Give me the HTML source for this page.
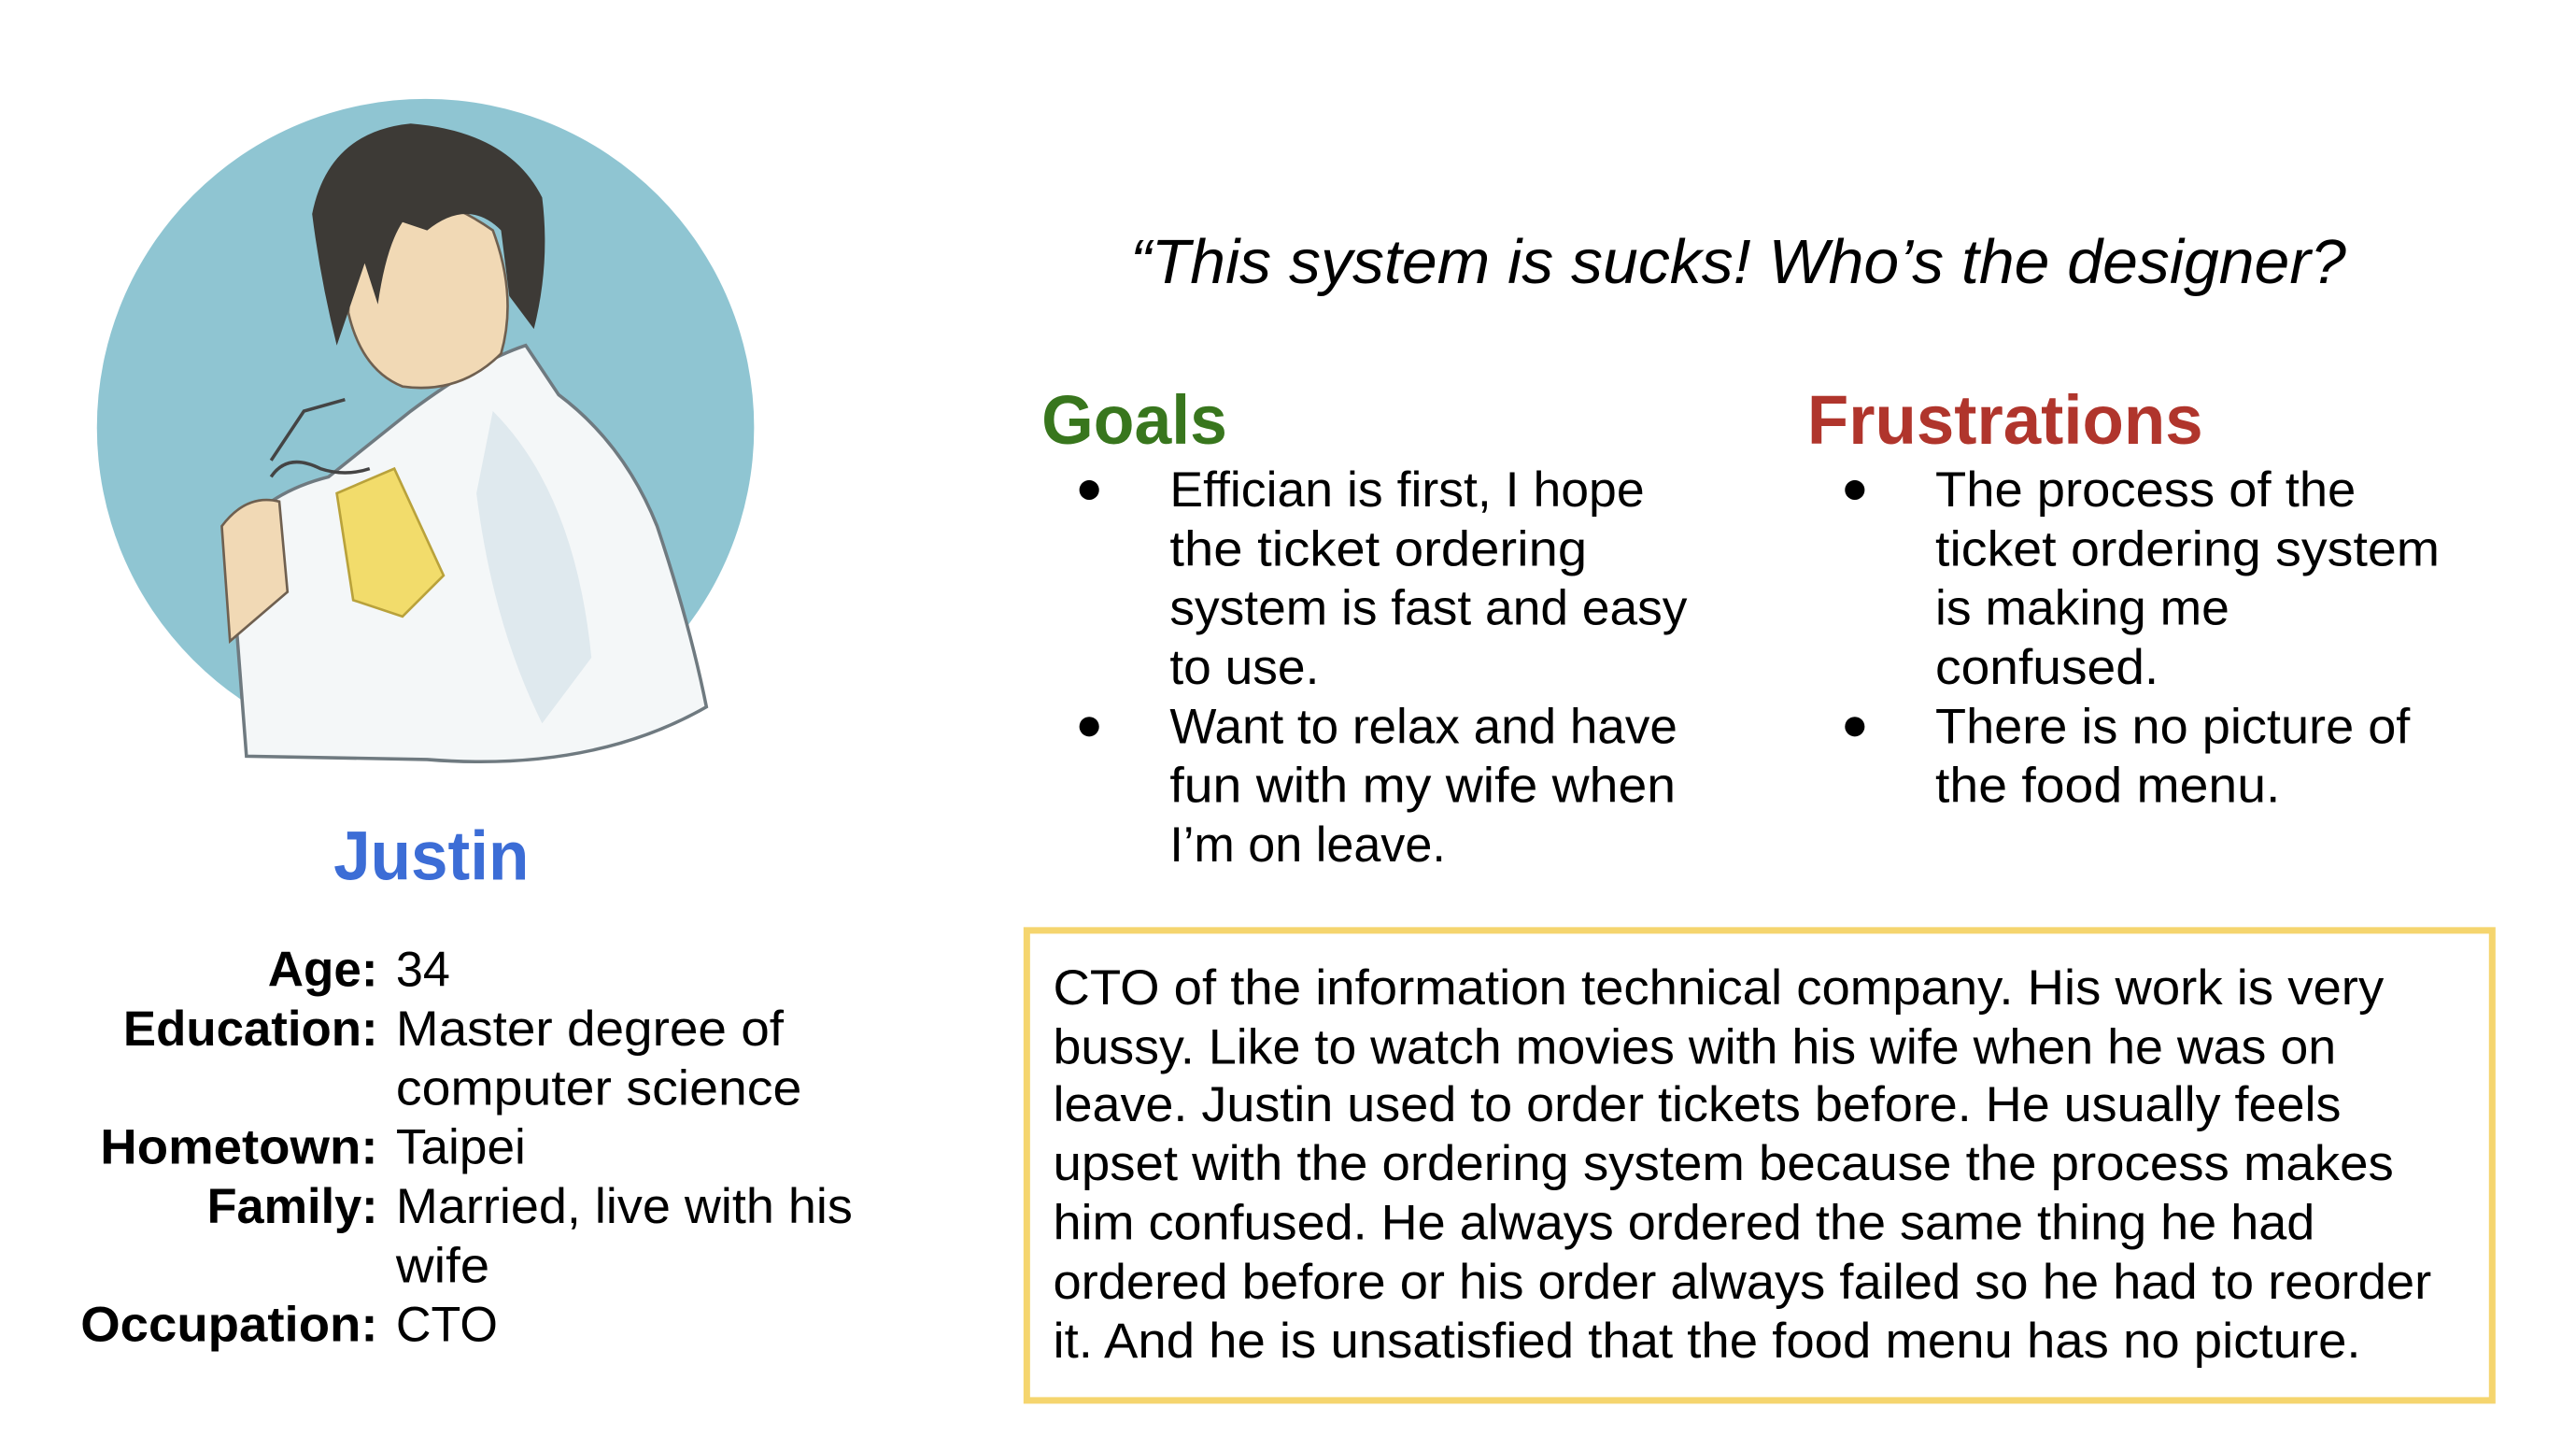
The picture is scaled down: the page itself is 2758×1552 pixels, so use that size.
<!DOCTYPE html>
<html><head><meta charset="utf-8"><style>
html,body{margin:0;padding:0;background:#fff;}
svg{display:block;}
text{font-family:"Liberation Sans",sans-serif;}
</style></head><body>
<svg width="2758" height="1552" viewBox="0 0 1568 882" xmlns="http://www.w3.org/2000/svg">
<rect width="1568" height="882" fill="#fff"/>
<g>
  <circle cx="259" cy="260" r="200" fill="#8fc5d2"/>
  <path d="M150 460 L140 330 Q160 300 200 290 L250 250 Q290 220 320 210 L340 240 Q380 270 400 320 Q420 380 430 430 Q360 470 260 462 Z" fill="#f4f7f8" stroke="#6f7a80" stroke-width="2"/>
  <path d="M300 250 Q350 300 360 400 L330 440 Q300 380 290 300 Z" fill="#dfe9ee"/>
  <path d="M140 390 L135 320 Q150 300 170 305 L175 360 Z" fill="#f1d9b5" stroke="#6f6050" stroke-width="1.5"/>
  <path d="M205 300 L240 285 L270 350 L245 375 L215 365 Z" fill="#f2dc6b" stroke="#b9a23b" stroke-width="1.5"/>
  <path d="M215 130 Q250 105 300 140 Q315 180 305 215 Q280 240 245 235 Q220 225 212 190 Z" fill="#f1d9b5" stroke="#6f6050" stroke-width="1.5"/>
  <path d="M190 130 Q200 80 250 75 Q310 80 330 120 Q335 160 325 200 L310 180 L305 140 Q285 120 260 140 L245 135 Q235 150 230 185 L222 160 L205 210 Q195 170 190 130 Z" fill="#3d3a36"/>
  <path d="M165 290 Q175 275 195 285 Q210 290 225 285" fill="none" stroke="#444" stroke-width="2"/>
  <path d="M165 280 L185 250 L210 243" fill="none" stroke="#444" stroke-width="2"/>
</g>
<text x="203" y="535" font-size="42" font-weight="bold" fill="#3c6dd6" textLength="119" lengthAdjust="spacingAndGlyphs">Justin</text>
<g font-size="30" fill="#000">
  <text x="230" y="600" text-anchor="end" font-weight="bold" textLength="67" lengthAdjust="spacingAndGlyphs">Age:</text>
  <text x="241" y="600" textLength="33" lengthAdjust="spacingAndGlyphs">34</text>
  <text x="230" y="636" text-anchor="end" font-weight="bold" textLength="155" lengthAdjust="spacingAndGlyphs">Education:</text>
  <text x="241" y="636" textLength="236" lengthAdjust="spacingAndGlyphs">Master degree of</text>
  <text x="241" y="672" textLength="247" lengthAdjust="spacingAndGlyphs">computer science</text>
  <text x="230" y="708" text-anchor="end" font-weight="bold" textLength="169" lengthAdjust="spacingAndGlyphs">Hometown:</text>
  <text x="241" y="708" textLength="79" lengthAdjust="spacingAndGlyphs">Taipei</text>
  <text x="230" y="744" text-anchor="end" font-weight="bold" textLength="104" lengthAdjust="spacingAndGlyphs">Family:</text>
  <text x="241" y="744" textLength="278" lengthAdjust="spacingAndGlyphs">Married, live with his</text>
  <text x="241" y="780" textLength="57" lengthAdjust="spacingAndGlyphs">wife</text>
  <text x="230" y="816" text-anchor="end" font-weight="bold" textLength="181" lengthAdjust="spacingAndGlyphs">Occupation:</text>
  <text x="241" y="816" textLength="62" lengthAdjust="spacingAndGlyphs">CTO</text>
</g>
<text x="688" y="172" font-size="38" font-style="italic" fill="#000" textLength="740" lengthAdjust="spacingAndGlyphs">“This system is sucks! Who’s the designer?</text>
<text x="634" y="270" font-size="42" font-weight="bold" fill="#38761d" textLength="113" lengthAdjust="spacingAndGlyphs">Goals</text>
<text x="1100" y="270" font-size="42" font-weight="bold" fill="#b0352c" textLength="241" lengthAdjust="spacingAndGlyphs">Frustrations</text>
<g font-size="30" fill="#000">
  <circle cx="663" cy="298" r="6"/>
  <circle cx="663" cy="442" r="6"/>
  <text x="712" y="308" textLength="289" lengthAdjust="spacingAndGlyphs">Effician is first, I hope</text>
  <text x="712" y="344" textLength="254" lengthAdjust="spacingAndGlyphs">the ticket ordering</text>
  <text x="712" y="380" textLength="315" lengthAdjust="spacingAndGlyphs">system is fast and easy</text>
  <text x="712" y="416" textLength="91" lengthAdjust="spacingAndGlyphs">to use.</text>
  <text x="712" y="452" textLength="309" lengthAdjust="spacingAndGlyphs">Want to relax and have</text>
  <text x="712" y="488" textLength="308" lengthAdjust="spacingAndGlyphs">fun with my wife when</text>
  <text x="712" y="524" textLength="168" lengthAdjust="spacingAndGlyphs">I’m on leave.</text>
</g>
<g font-size="30" fill="#000">
  <circle cx="1129" cy="298" r="6"/>
  <circle cx="1129" cy="442" r="6"/>
  <text x="1178" y="308" textLength="256" lengthAdjust="spacingAndGlyphs">The process of the</text>
  <text x="1178" y="344" textLength="307" lengthAdjust="spacingAndGlyphs">ticket ordering system</text>
  <text x="1178" y="380" textLength="179" lengthAdjust="spacingAndGlyphs">is making me</text>
  <text x="1178" y="416" textLength="136" lengthAdjust="spacingAndGlyphs">confused.</text>
  <text x="1178" y="452" textLength="289" lengthAdjust="spacingAndGlyphs">There is no picture of</text>
  <text x="1178" y="488" textLength="210" lengthAdjust="spacingAndGlyphs">the food menu.</text>
</g>
<rect x="625" y="566" width="892" height="286" fill="none" stroke="#f5d56e" stroke-width="4"/>
<g font-size="30" fill="#000">
  <text x="641" y="611" textLength="810" lengthAdjust="spacingAndGlyphs">CTO of the information technical company. His work is very</text>
  <text x="641" y="647" textLength="781" lengthAdjust="spacingAndGlyphs">bussy. Like to watch movies with his wife when he was on</text>
  <text x="641" y="682" textLength="784" lengthAdjust="spacingAndGlyphs">leave. Justin used to order tickets before. He usually feels</text>
  <text x="641" y="718" textLength="816" lengthAdjust="spacingAndGlyphs">upset with the ordering system because the process makes</text>
  <text x="641" y="754" textLength="768" lengthAdjust="spacingAndGlyphs">him confused. He always ordered the same thing he had</text>
  <text x="641" y="790" textLength="839" lengthAdjust="spacingAndGlyphs">ordered before or his order always failed so he had to reorder</text>
  <text x="641" y="826" textLength="796" lengthAdjust="spacingAndGlyphs">it. And he is unsatisfied that the food menu has no picture.</text>
</g>
</svg>
</body></html>
